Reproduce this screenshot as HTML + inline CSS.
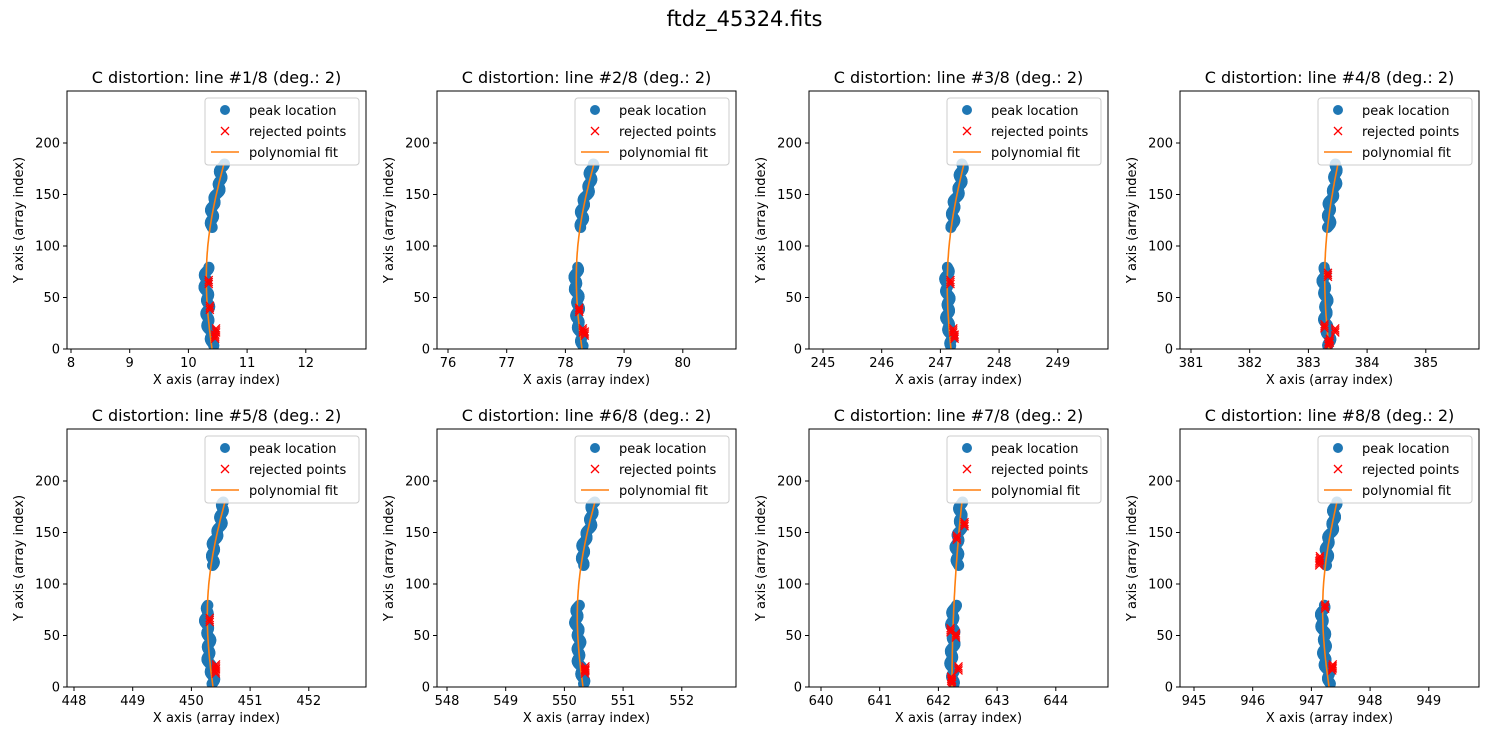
<!DOCTYPE html>
<html><head><meta charset="utf-8"><style>
body{margin:0;background:#fff;width:1489px;height:740px;overflow:hidden}
svg text{font-family:"DejaVu Sans","Liberation Sans",sans-serif;fill:#000}
</style></head><body>
<svg id="s" width="1489" height="740" xmlns="http://www.w3.org/2000/svg">
<text x="744.5" y="26" font-size="21" text-anchor="middle">ftdz_45324.fits</text>
</svg>
<script>
const s=document.getElementById('s');let h='';
const cols=[67,437,809,1180],rows=[91,429],W=299,H=258,sp=58.7;
const firsts=[[8,4],[76,11],[245,14],[381,11],[448,7],[548,10],[640,12],[945,14]];
const fits=[[145,-4,12],[145,-4,12],[142,-3,13],[149,-3,9],[146,-4,12],[146,-4,12],[143,0,10],[149,-4,8]];
const reds=[[65,40,12,18],[38,15,18],[65,12,18],[5,22,72,18,8],[65,15,20],[15,18],[145,158,55,50,18,8,5],[125,120,78,18,20]];
const redDx=[[3,3,6,8],[2,6,4],[4,6,5],[0,-3,4,10,2],[3,6,7],[5,6],[-2,6,-3,4,8,-1,0],[-8,-8,3,7,8]];
function fx(f,y){const t=y/180;return f[0]+f[1]*Math.sin(Math.PI*t)*2+f[2]*t*t;}
for(let i=0;i<8;i++){
 const L=cols[i%4],T=rows[i>>2],B=T+H;const f=fits[i];
 const Y=v=>B-v*1.03;
 h+=`<g>`;
 let pts='';
 const segs=[[3,80],[118,180]];
 for(const [a,b] of segs){for(let y=a;y<=b;y+=0.7){const j=Math.sin(y*0.5+i)*1.6+Math.sin(y*0.17)*1.2;pts+=`<circle cx="${(L+fx(f,y)+j).toFixed(1)}" cy="${Y(y).toFixed(1)}" r="5.5" fill="#1f77b4"/>`;}}
 h+=`<clipPath id="c${i}"><rect x="${L}" y="${T}" width="${W}" height="${H}"/></clipPath><g clip-path="url(#c${i})">${pts}`;
 let d='';for(let y=0;y<=180;y+=3){d+=(y?'L':'M')+(L+fx(f,y)).toFixed(1)+','+Y(y).toFixed(1);}
 h+=`<path d="${d}" stroke="#ff7f0e" stroke-width="1.6" fill="none"/>`;
 reds[i].forEach((y,k)=>{const x=L+fx(f,y)+redDx[i][k]*0.8,yy=Y(y);for(const o of [-2,0,2])h+=`<path d="M${x-4},${yy-4+o}l8,8M${x-4},${yy+4+o}l8,-8" stroke="red" stroke-width="1.3"/>`;});
 h+=`</g><rect x="${L}" y="${T}" width="${W}" height="${H}" fill="none" stroke="#000" stroke-width="1"/>`;
 for(let v=0;v<=200;v+=50){const y=Y(v);h+=`<line x1="${L-4}" x2="${L}" y1="${y}" y2="${y}" stroke="#000"/><text x="${L-7}" y="${y+4.5}" font-size="13" text-anchor="end">${v}</text>`;}
 const [fv,fo]=firsts[i];
 for(let k=0;k<5;k++){const x=L+fo+k*sp;h+=`<line x1="${x}" x2="${x}" y1="${B}" y2="${B+4}" stroke="#000"/><text x="${x}" y="${B+18}" font-size="13" text-anchor="middle">${fv+k}</text>`;}
 h+=`<text x="${L+W/2}" y="${B+35}" font-size="13" text-anchor="middle">X axis (array index)</text>`;
 h+=`<text transform="translate(${L-44},${T+H/2}) rotate(-90)" font-size="13" text-anchor="middle">Y axis (array index)</text>`;
 h+=`<text x="${L+W/2}" y="${T-8}" font-size="16" text-anchor="middle">C distortion: line #${i+1}/8 (deg.: 2)</text>`;
 const lx=L+138,ly=T+7;
 h+=`<rect x="${lx}" y="${ly}" width="154" height="67" rx="3" fill="#fff" fill-opacity="0.8" stroke="#ccc"/>`;
 h+=`<circle cx="${lx+20}" cy="${ly+12}" r="5" fill="#1f77b4"/><text x="${lx+44}" y="${ly+17}" font-size="13">peak location</text>`;
 h+=`<path d="M${lx+16},${ly+29}l8,8M${lx+16},${ly+37}l8,-8" stroke="red" stroke-width="1.3"/><text x="${lx+44}" y="${ly+38}" font-size="13">rejected points</text>`;
 h+=`<line x1="${lx+6}" x2="${lx+34}" y1="${ly+54}" y2="${ly+54}" stroke="#ff7f0e" stroke-width="1.6"/><text x="${lx+44}" y="${ly+59}" font-size="13">polynomial fit</text>`;
 h+=`</g>`;
}
s.insertAdjacentHTML('beforeend',h);
</script>
</body></html>
